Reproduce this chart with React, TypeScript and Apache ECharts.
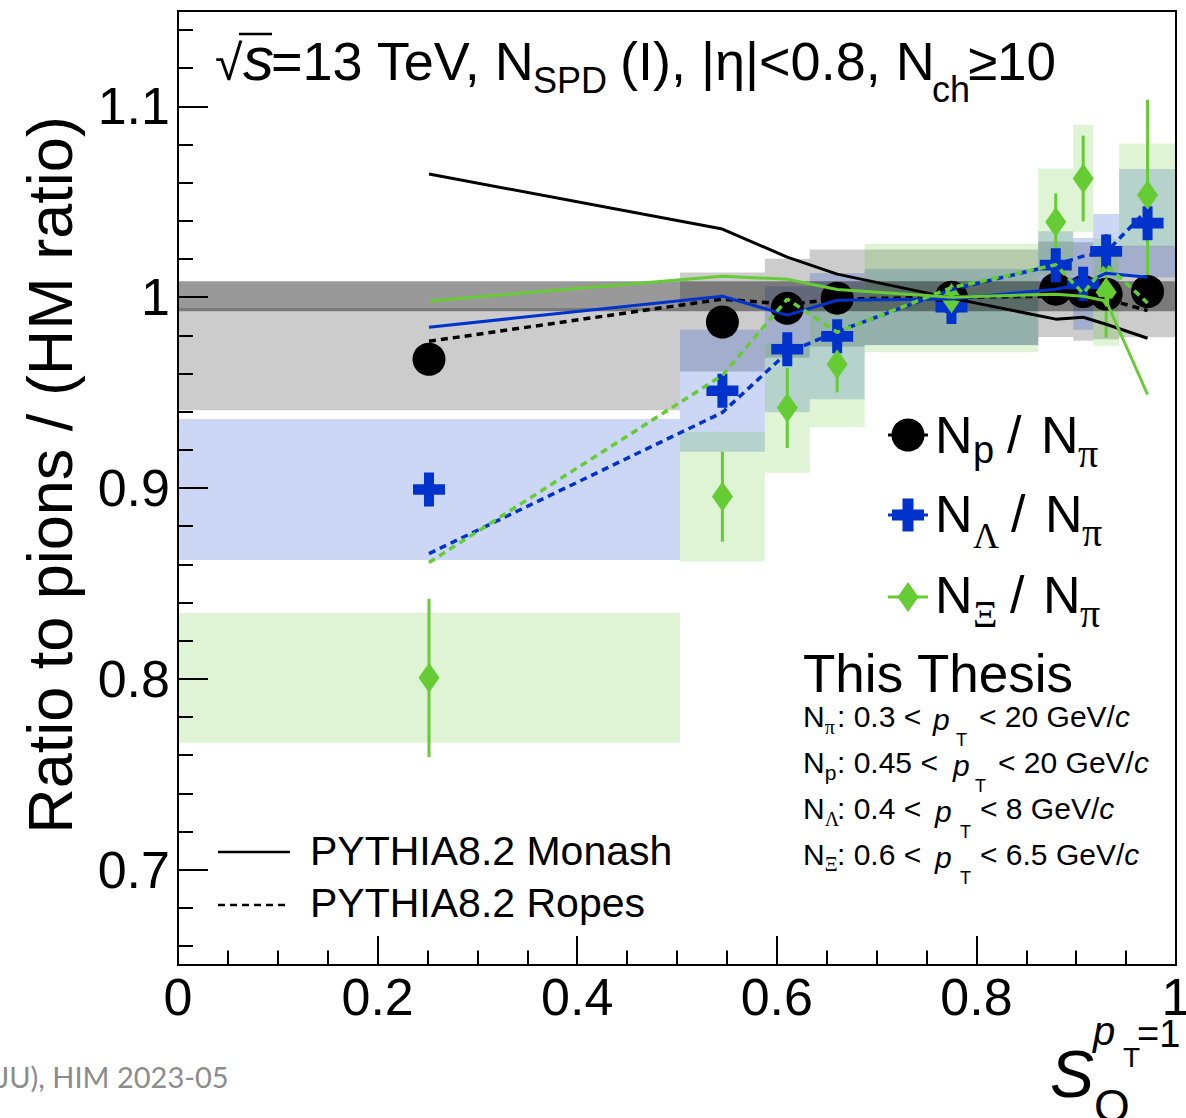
import React, { useEffect, useRef } from 'react';
import * as echarts from 'echarts';

const SANS = '"Liberation Sans", Arial, Helvetica, sans-serif';
const SERIF = '"Liberation Serif", "DejaVu Serif", serif';
const FOOT = 'Lato, "Open Sans", sans-serif';

const BLUE = '#0033cc';
const GREEN = '#66cc33';

// S_O^{pT=1} classes: bin edges and bin centres
const binLow = [0, 0.503, 0.588, 0.633, 0.688, 0.862, 0.897, 0.917, 0.943];
const binHigh = [0.503, 0.588, 0.633, 0.688, 0.862, 0.897, 0.917, 0.943, 1.0];
const soCenter = [0.2515, 0.5455, 0.6105, 0.6605, 0.775, 0.8795, 0.907, 0.93, 0.9715];

// N_p / N_pi (double ratio), statistical and systematic uncertainties
const protonVal = [0.9675, 0.987, 0.9942, 0.9995, 1.0, 1.0042, 1.003, 1.0016, 1.003];
const protonStat = [0.003, 0.003, 0.003, 0.003, 0.002, 0.004, 0.004, 0.004, 0.004];
const protonSyst = [0.0268, 0.026, 0.026, 0.0255, 0.025, 0.025, 0.0258, 0.0236, 0.024];

// N_Lambda / N_pi
const lambdaVal = [0.8992, 0.951, 0.9727, 0.9795, 0.9948, 1.0168, 1.007, 1.024, 1.0388];
const lambdaStat = [0.006, 0.005, 0.006, 0.006, 0.003, 0.007, 0.008, 0.009, 0.01];
const lambdaSyst = [0.037, 0.032, 0.033, 0.033, 0.02, 0.0178, 0.024, 0.0196, 0.0284];

// N_Xi / N_pi
const xiVal = [0.8005, 0.8955, 0.942, 0.9648, 0.9995, 1.0394, 1.0622, 1.0026, 1.0535];
const xiStat = [0.0415, 0.0236, 0.021, 0.0147, 0.005, 0.015, 0.0225, 0.0236, 0.05];
const xiSyst = [0.034, 0.034, 0.034, 0.033, 0.0284, 0.028, 0.0281, 0.028, 0.027];

// PYTHIA8.2 predictions at the same S_O classes
const protonMonash = [1.0646, 1.0357, 1.021, 1.0121, 0.9995, 0.9885, 0.9895, 0.9858, 0.9785];
const protonRopes = [0.9769, 0.999, 0.9963, 0.999, 1.0, 1.0005, 1.0, 0.999, 0.993];
const lambdaMonash = [0.9843, 1.0005, 0.9906, 0.9984, 0.999, 1.0042, 1.0068, 1.0126, 1.0105];
const lambdaRopes = [0.8656, 0.9396, 0.971, 0.982, 1.004, 1.017, 1.0215, 1.0236, 1.046];
const xiMonash = [0.998, 1.011, 1.0094, 1.004, 1.0, 1.0016, 1.0005, 0.998, 0.949];
const xiRopes = [0.861, 0.959, 0.999, 0.9816, 1.005, 1.017, 1.002, 1.017, 0.997];

// HM normalisation uncertainty band
const hmBand = [0.9926, 1.0084];

// axis ticks
const yMajorTicks = [0.7, 0.8, 0.9, 1.0, 1.1];
const yMinorTicks = [
  0.66, 0.68, 0.72, 0.74, 0.76, 0.78, 0.82, 0.84, 0.86, 0.88,
  0.92, 0.94, 0.96, 0.98, 1.02, 1.04, 1.06, 1.08, 1.12, 1.14,
];

const PLUS = 'path://M11,0H21V11H32V21H21V32H11V21H0V11H11Z';

let measureCtx: CanvasRenderingContext2D | null = null;
function measure(t: string, size: number, italic: boolean, family: string) {
  if (!measureCtx) measureCtx = document.createElement('canvas').getContext('2d');
  if (!measureCtx) return t.length * size * 0.55;
  measureCtx.font = `${italic ? 'italic ' : ''}${size}px ${family}`;
  return measureCtx.measureText(t).width;
}

function text(x: number, base: number, t: string, size: number, o: any = {}) {
  return {
    type: 'text',
    x,
    y: base - 0.3465 * size,
    z: 100,
    silent: true,
    style: {
      text: t,
      fontSize: size,
      fontFamily: o.f || SANS,
      fontStyle: o.it ? 'italic' : 'normal',
      fill: o.color || '#000',
      align: o.align || 'left',
      verticalAlign: 'middle',
    },
  };
}

type Run = { t: string; s: number; dy?: number; it?: boolean; f?: string; x?: number };
function runs(x0: number, base: number, parts: Run[]) {
  let x = x0;
  const out: any[] = [];
  for (const p of parts) {
    if (p.x !== undefined) x = p.x;
    out.push(text(x, base + (p.dy || 0), p.t, p.s, p));
    x += measure(p.t, p.s, !!p.it, p.f || SANS);
  }
  return out;
}

function plusPoints(cx: number, cy: number, w: number, h: number, a: number) {
  return [
    [cx - a / 2, cy - h / 2], [cx + a / 2, cy - h / 2], [cx + a / 2, cy - a / 2],
    [cx + w / 2, cy - a / 2], [cx + w / 2, cy + a / 2], [cx + a / 2, cy + a / 2],
    [cx + a / 2, cy + h / 2], [cx - a / 2, cy + h / 2], [cx - a / 2, cy + a / 2],
    [cx - w / 2, cy + a / 2], [cx - w / 2, cy - a / 2], [cx - a / 2, cy - a / 2],
  ];
}

function rectItem(fill: string) {
  return (_p: any, api: any) => {
    const p0 = api.coord([api.value(0), api.value(3)]);
    const p1 = api.coord([api.value(1), api.value(2)]);
    return {
      type: 'rect',
      shape: { x: p0[0], y: p0[1], width: p1[0] - p0[0], height: p1[1] - p0[1] },
      style: { fill },
    };
  };
}

function boxSeries(vals: number[], syst: number[], fill: string) {
  return {
    type: 'custom',
    coordinateSystem: 'cartesian2d',
    silent: true,
    z: 1,
    data: vals.map((v, i) => [binLow[i], binHigh[i], v - syst[i], v + syst[i]]),
    encode: { x: [0, 1], y: [2, 3] },
    renderItem: rectItem(fill),
  };
}

function errSeries(vals: number[], err: number[], color: string) {
  return {
    type: 'custom',
    coordinateSystem: 'cartesian2d',
    silent: true,
    z: 2,
    data: vals.map((v, i) => [soCenter[i], v - err[i], v + err[i]]),
    encode: { x: 0, y: [1, 2] },
    renderItem: (_p: any, api: any) => {
      const a = api.coord([api.value(0), api.value(1)]);
      const b = api.coord([api.value(0), api.value(2)]);
      return {
        type: 'line',
        shape: { x1: a[0], y1: a[1], x2: b[0], y2: b[1] },
        style: { stroke: color, lineWidth: 3 },
      };
    },
  };
}

function markerSeries(vals: number[], symbol: string, size: any, color: string) {
  return {
    type: 'scatter',
    silent: true,
    z: 2,
    data: vals.map((v, i) => [soCenter[i], v]),
    symbol,
    symbolSize: size,
    itemStyle: { color, opacity: 1, borderWidth: 0 },
  };
}

function modelSeries(vals: number[], color: string, dashed: boolean) {
  return {
    type: 'line',
    silent: true,
    z: 3,
    data: vals.map((v, i) => [soCenter[i], v]),
    showSymbol: false,
    symbol: 'none',
    lineStyle: { color, width: dashed ? 3.5 : 3, type: dashed ? [7, 5] : 'solid' },
  };
}

function buildGraphics() {
  const g: any[] = [];

  // y-axis title
  g.push({
    type: 'text',
    x: 50,
    y: 475,
    rotation: Math.PI / 2,
    z: 100,
    silent: true,
    style: {
      text: 'Ratio to pions / (HM ratio)',
      fontSize: 63,
      fontFamily: SANS,
      fill: '#000',
      align: 'center',
      verticalAlign: 'middle',
    },
  });

  // header: sqrt(s)=13 TeV, N_SPD (I), |eta|<0.8, N_ch>=10
  g.push(text(215, 80, '\u221A', 50));
  g.push({
    type: 'line',
    z: 100,
    silent: true,
    shape: { x1: 239, y1: 34, x2: 272, y2: 34 },
    style: { stroke: '#000', lineWidth: 2.5 },
  });
  g.push(text(243, 80, 's', 62, { it: true }));
  g.push(text(271, 80, '=13 TeV, N', 54));
  g.push(text(533, 93, 'SPD', 36));
  g.push(text(620, 80, '(I), |\u03B7|<0.8, N', 54));
  g.push(text(932, 102, 'ch', 36));
  g.push(text(968, 80, '\u226510', 53));

  // species legend
  const rows = [
    { y: 435, base: 453, sub: 'p', subF: SANS, subS: 38, subDy: 10, slash: 1007, n2: 1041, pi: 1078, piDy: 14, color: '#000', mark: 'circle' },
    { y: 515, base: 532, sub: '\u039B', subF: SERIF, subS: 36, subDy: 16, slash: 1011, n2: 1045, pi: 1082, piDy: 14, color: BLUE, mark: 'plus' },
    { y: 597, base: 613, sub: '\u039E', subF: SERIF, subS: 38, subDy: 14, slash: 1010, n2: 1043, pi: 1080, piDy: 14, color: GREEN, mark: 'diamond' },
  ];
  for (const r of rows) {
    g.push({
      type: 'line', z: 100, silent: true,
      shape: { x1: 888, y1: r.y, x2: 928, y2: r.y },
      style: { stroke: r.color, lineWidth: 3 },
    });
    if (r.mark === 'circle') {
      g.push({ type: 'circle', z: 101, silent: true, shape: { cx: 908, cy: r.y, r: 16.5 }, style: { fill: r.color } });
    } else if (r.mark === 'plus') {
      g.push({ type: 'polygon', z: 101, silent: true, shape: { points: plusPoints(908, r.y, 32, 33, 11) }, style: { fill: r.color } });
    } else {
      g.push({
        type: 'polygon', z: 101, silent: true,
        shape: { points: [[908, r.y - 15], [918.5, r.y], [908, r.y + 15], [897.5, r.y]] },
        style: { fill: r.color },
      });
    }
    g.push(text(935, r.base, 'N', 52));
    g.push(text(973, r.base + r.subDy, r.sub, r.subS, { f: r.subF }));
    g.push(text(r.slash, r.base, '/', 52));
    g.push(text(r.n2, r.base, 'N', 52));
    g.push(text(r.pi, r.base + r.piDy, '\u03C0', 40, { f: SERIF }));
  }

  // model legend
  g.push({ type: 'line', z: 100, silent: true, shape: { x1: 218, y1: 852, x2: 290, y2: 852 }, style: { stroke: '#000', lineWidth: 2.5 } });
  g.push({ type: 'line', z: 100, silent: true, shape: { x1: 218, y1: 905, x2: 290, y2: 905 }, style: { stroke: '#000', lineWidth: 2.5, lineDash: [7, 5] } });
  g.push(text(310, 865, 'PYTHIA8.2 Monash', 41));
  g.push(text(310, 917, 'PYTHIA8.2 Ropes', 41));

  // thesis label and kinematic ranges
  g.push(text(803, 692, 'This Thesis', 53));
  const S = 30;
  const lines: { base: number; sub: Run; lo: string; p: number; tt: number; hi: string; rest: number }[] = [
    { base: 727, sub: { t: '\u03C0', s: 20, dy: 7, f: SERIF }, lo: ': 0.3 <', p: 933, tt: 956, hi: '< 20 GeV/', rest: 979 },
    { base: 773, sub: { t: 'p', s: 21, dy: 7 }, lo: ': 0.45 <', p: 953, tt: 975, hi: '< 20 GeV/', rest: 998 },
    { base: 819, sub: { t: '\u039B', s: 20, dy: 7, f: SERIF }, lo: ': 0.4 <', p: 935, tt: 960, hi: '< 8 GeV/', rest: 980 },
    { base: 865, sub: { t: '\u039E', s: 20, dy: 6, f: SERIF }, lo: ': 0.6 <', p: 935, tt: 960, hi: '< 6.5 GeV/', rest: 980 },
  ];
  for (const l of lines) {
    g.push(
      ...runs(803, l.base, [
        { t: 'N', s: S },
        l.sub,
        { t: l.lo, s: S, x: 837 },
        { t: 'p', s: S, it: true, dy: 3, x: l.p },
        { t: 'T', s: 18, dy: 19, x: l.tt },
        { t: l.hi, s: S, x: l.rest },
        { t: 'c', s: S, it: true },
      ])
    );
  }

  // x-axis title S_O^{pT=1}
  g.push(text(1050, 1097, 'S', 66, { it: true }));
  g.push(text(1094, 1122, 'O', 46));
  g.push(text(1093, 1045, 'p', 40, { it: true }));
  g.push(text(1123, 1067, 'T', 28));
  g.push(text(1137, 1047, '=1', 38));

  // footer
  g.push(text(-3, 1087, 'JU), HIM 2023-05', 29, { f: FOOT, color: '#8c8c8c' }));

  return g;
}

function buildOption() {
  const fmt = (v: number) => String(Math.round(v * 10) / 10);
  return {
    animation: false,
    backgroundColor: '#ffffff',
    grid: {
      left: 178, right: 10, top: 11, bottom: 153,
      outerBoundsMode: 'none',
      containLabel: false,
      show: true, borderColor: '#000', borderWidth: 2, backgroundColor: 'transparent', z: 10,
    },
    xAxis: {
      type: 'value', min: 0, max: 1, interval: 0.2, z: 10,
      axisLine: { show: true, lineStyle: { color: '#000', width: 2 } },
      axisTick: { show: true, inside: true, length: 29, lineStyle: { color: '#000', width: 2 } },
      minorTick: { show: true, splitNumber: 4, length: 14.5, lineStyle: { color: '#000', width: 2 } },
      axisLabel: { fontSize: 52, fontFamily: SANS, color: '#000', margin: 6, formatter: fmt },
      splitLine: { show: false },
      minorSplitLine: { show: false },
    },
    yAxis: [
      {
        type: 'value', min: 0.65, max: 1.15, position: 'left', z: 10,
        axisLine: { show: true, lineStyle: { color: '#000', width: 2 } },
        axisTick: { show: true, inside: true, length: 30, customValues: yMajorTicks, lineStyle: { color: '#000', width: 2 } },
        axisLabel: { customValues: yMajorTicks, fontSize: 52, fontFamily: SANS, color: '#000', margin: 8, formatter: fmt },
        splitLine: { show: false },
      },
      {
        type: 'value', min: 0.65, max: 1.15, position: 'left', z: 10,
        axisLine: { show: false },
        axisTick: { show: true, inside: true, length: 15, customValues: yMinorTicks, lineStyle: { color: '#000', width: 2 } },
        axisLabel: { show: false },
        splitLine: { show: false },
      },
    ],
    series: [
      boxSeries(protonVal, protonSyst, 'rgba(0,0,0,0.2)'),
      boxSeries(lambdaVal, lambdaSyst, 'rgba(0,51,204,0.2)'),
      boxSeries(xiVal, xiSyst, 'rgba(90,200,40,0.2)'),
      {
        type: 'custom',
        coordinateSystem: 'cartesian2d',
        silent: true,
        z: 1,
        data: [[0, 1, hmBand[0], hmBand[1]]],
        encode: { x: [0, 1], y: [2, 3] },
        renderItem: rectItem('rgba(0,0,0,0.4)'),
      },
      errSeries(protonVal, protonStat, '#000'),
      markerSeries(protonVal, 'circle', 33, '#000'),
      errSeries(lambdaVal, lambdaStat, BLUE),
      markerSeries(lambdaVal, PLUS, [32, 34], BLUE),
      errSeries(xiVal, xiStat, GREEN),
      markerSeries(xiVal, 'diamond', [21, 30], GREEN),
      modelSeries(protonMonash, '#000', false),
      modelSeries(protonRopes, '#000', true),
      modelSeries(lambdaMonash, BLUE, false),
      modelSeries(lambdaRopes, BLUE, true),
      modelSeries(xiMonash, GREEN, false),
      modelSeries(xiRopes, GREEN, true),
    ],
    graphic: { elements: buildGraphics() },
  };
}

export default function App() {
  const ref = useRef<HTMLDivElement>(null);
  useEffect(() => {
    if (!ref.current) return;
    const chart = echarts.init(ref.current, null, { renderer: 'svg' });
    chart.setOption(buildOption() as any);
    return () => chart.dispose();
  }, []);
  return (
    <div
      ref={ref}
      style={{ position: 'absolute', left: 0, top: 0, width: 1186, height: 1118, background: '#fff' }}
    />
  );
}
